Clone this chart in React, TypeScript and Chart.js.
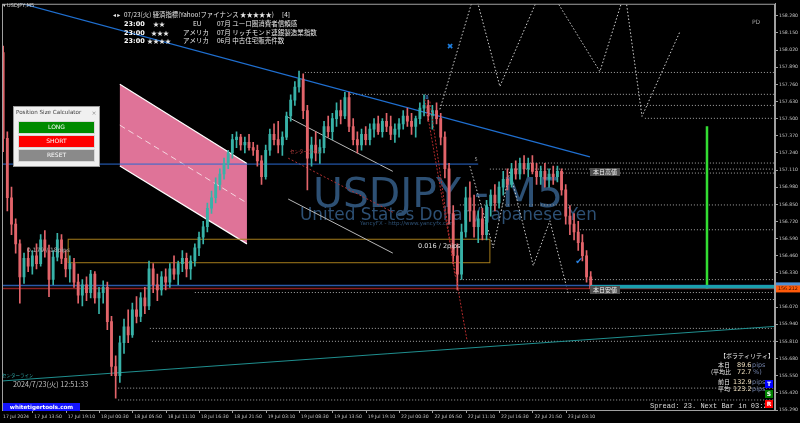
import React, { useEffect, useRef } from 'react';
import { Chart, registerables } from 'chart.js';
Chart.register(...registerables);

// ---------- data (40-minute aggregated candles, USDJPY) ----------
const OPEN = [
  158.12, 158.00, 157.35, 156.90, 156.70, 156.55, 156.30, 156.44, 156.38, 156.46,
  156.40, 156.58, 156.50, 156.28, 156.45, 156.58, 156.44, 156.36, 156.40, 156.26,
  156.16, 156.24, 156.18, 156.32, 156.14, 156.18, 156.22, 155.96, 155.62, 155.55,
  155.80, 155.92, 155.86, 156.05, 156.00, 156.14, 156.08, 156.36, 156.24, 156.20,
  156.30, 156.26, 156.36, 156.32, 156.40, 156.44, 156.36, 156.42, 156.52, 156.60,
  156.68, 156.82, 156.90, 157.00, 157.08, 157.16, 157.24, 157.34, 157.36, 157.30,
  157.32, 157.28, 157.26, 157.18, 157.06, 157.26, 157.38, 157.34, 157.30, 157.36,
  157.52, 157.64, 157.74, 157.80, 157.56, 157.20, 157.30, 157.24, 157.28, 157.44,
  157.40, 157.50, 157.56, 157.52, 157.66, 157.44, 157.34, 157.30, 157.38, 157.34,
  157.42, 157.46, 157.40, 157.48, 157.44, 157.38, 157.42, 157.46, 157.52, 157.48,
  157.44, 157.50, 157.58, 157.60, 157.52, 157.56, 157.50, 157.36, 157.12, 156.78,
  156.46, 156.32, 156.64, 156.90, 156.80, 156.68, 156.74, 156.62, 156.84, 156.92,
  156.86, 156.98, 157.04, 157.00, 157.12, 157.08, 157.16, 157.12, 157.16, 157.10,
  157.06, 157.10, 157.04, 157.08, 157.06, 157.10, 156.96, 156.76, 156.70, 156.64,
  156.56, 156.46, 156.30,
];
const HIGH = [
  158.22, 158.05, 157.40, 156.98, 156.74, 156.58, 156.48, 156.52, 156.50, 156.55,
  156.62, 156.65, 156.54, 156.50, 156.63, 156.62, 156.50, 156.46, 156.44, 156.32,
  156.28, 156.30, 156.35, 156.34, 156.22, 156.27, 156.26, 156.00, 155.70, 155.85,
  155.98, 156.05, 156.10, 156.15, 156.18, 156.22, 156.42, 156.40, 156.32, 156.34,
  156.36, 156.40, 156.46, 156.42, 156.50, 156.48, 156.46, 156.55, 156.64, 156.72,
  156.86, 156.95, 157.05, 157.12, 157.20, 157.26, 157.38, 157.40, 157.38, 157.36,
  157.38, 157.32, 157.30, 157.22, 157.30, 157.42, 157.46, 157.48, 157.40, 157.55,
  157.68, 157.78, 157.86, 157.84, 157.60, 157.36, 157.40, 157.34, 157.48, 157.52,
  157.54, 157.62, 157.64, 157.70, 157.70, 157.50, 157.40, 157.42, 157.44, 157.46,
  157.50, 157.52, 157.50, 157.54, 157.52, 157.46, 157.50, 157.56, 157.58, 157.54,
  157.52, 157.62, 157.68, 157.64, 157.60, 157.62, 157.54, 157.40, 157.16, 156.84,
  156.55, 156.70, 156.98, 157.02, 156.92, 156.80, 156.82, 156.88, 156.96, 157.00,
  157.02, 157.10, 157.12, 157.16, 157.18, 157.20, 157.22, 157.20, 157.22, 157.16,
  157.14, 157.16, 157.12, 157.14, 157.14, 157.12, 157.00, 156.84, 156.78, 156.72,
  156.62, 156.50, 156.34,
];
const LOW = [
  157.95, 157.25, 156.80, 156.62, 156.48, 156.10, 156.25, 156.34, 156.32, 156.36,
  156.38, 156.45, 156.15, 156.24, 156.42, 156.40, 156.30, 156.26, 156.22, 156.10,
  156.08, 156.12, 156.14, 156.10, 156.02, 156.10, 155.90, 155.55, 155.38, 155.50,
  155.72, 155.80, 155.84, 155.95, 155.96, 156.02, 156.05, 156.18, 156.12, 156.16,
  156.20, 156.22, 156.28, 156.24, 156.34, 156.30, 156.28, 156.38, 156.46, 156.55,
  156.64, 156.78, 156.86, 156.96, 157.04, 157.12, 157.20, 157.28, 157.26, 157.24,
  157.26, 157.22, 157.14, 157.00, 157.04, 157.22, 157.30, 157.24, 157.22, 157.34,
  157.48, 157.60, 157.70, 157.50, 156.96, 157.14, 157.18, 157.16, 157.24, 157.36,
  157.34, 157.44, 157.46, 157.50, 157.40, 157.30, 157.24, 157.26, 157.30, 157.30,
  157.36, 157.38, 157.36, 157.40, 157.34, 157.32, 157.36, 157.42, 157.44, 157.38,
  157.36, 157.46, 157.52, 157.48, 157.42, 157.46, 157.30, 157.05, 156.70, 156.40,
  156.20, 156.28, 156.60, 156.72, 156.60, 156.56, 156.58, 156.58, 156.76, 156.80,
  156.82, 156.92, 156.96, 156.98, 157.04, 157.04, 157.08, 157.06, 157.08, 157.00,
  157.00, 156.98, 156.98, 157.00, 157.02, 156.92, 156.70, 156.62, 156.58, 156.50,
  156.42, 156.26, 156.19,
];
const CLOSE = [
  158.00, 157.35, 156.90, 156.70, 156.55, 156.30, 156.44, 156.38, 156.46, 156.40,
  156.58, 156.50, 156.28, 156.45, 156.58, 156.44, 156.36, 156.40, 156.26, 156.16,
  156.24, 156.18, 156.32, 156.14, 156.18, 156.22, 155.96, 155.62, 155.55, 155.80,
  155.92, 155.86, 156.05, 156.00, 156.14, 156.08, 156.36, 156.24, 156.20, 156.30,
  156.26, 156.36, 156.32, 156.40, 156.44, 156.36, 156.42, 156.52, 156.60, 156.68,
  156.82, 156.90, 157.00, 157.08, 157.16, 157.24, 157.34, 157.36, 157.30, 157.32,
  157.28, 157.26, 157.18, 157.06, 157.26, 157.38, 157.34, 157.30, 157.36, 157.52,
  157.64, 157.74, 157.80, 157.56, 157.20, 157.30, 157.24, 157.28, 157.44, 157.40,
  157.50, 157.56, 157.52, 157.66, 157.44, 157.34, 157.30, 157.38, 157.34, 157.42,
  157.46, 157.40, 157.48, 157.44, 157.38, 157.42, 157.46, 157.52, 157.48, 157.44,
  157.50, 157.58, 157.60, 157.52, 157.56, 157.50, 157.36, 157.12, 156.78, 156.46,
  156.32, 156.64, 156.90, 156.80, 156.68, 156.74, 156.62, 156.84, 156.92, 156.86,
  156.98, 157.04, 157.00, 157.12, 157.08, 157.16, 157.12, 157.16, 157.10, 157.06,
  157.10, 157.04, 157.08, 157.06, 157.10, 156.96, 156.76, 156.70, 156.64, 156.56,
  156.46, 156.30, 156.212,
];

const TIME_LABELS = [
  '17 Jul 2024', '17 Jul 13:50', '17 Jul 19:10', '18 Jul 00:30', '18 Jul 05:50', '18 Jul 11:10',
  '18 Jul 16:30', '18 Jul 21:50', '19 Jul 03:10', '19 Jul 08:30', '19 Jul 13:50', '19 Jul 19:10',
  '22 Jul 00:30', '22 Jul 05:50', '22 Jul 11:10', '22 Jul 16:30', '22 Jul 21:50', '23 Jul 03:10',
];
const BARS_PER_LABEL = 8;

const PRICE_TICKS = [
  155.29, 155.42, 155.55, 155.68, 155.81, 155.94, 156.07, 156.2, 156.33, 156.46, 156.59, 156.72,
  156.85, 156.98, 157.11, 157.24, 157.37, 157.5, 157.63, 157.76, 157.89, 158.02, 158.15, 158.28,
];
const BID = 156.212;
const ASK = 156.235;

// drawing objects (bar index, price)
const CHANNEL_X = [29.0, 59.5];
const CHANNEL_UPPER = [157.76, 157.16];
const CHANNEL_MID = [157.45, 156.86];
const CHANNEL_LOWER = [157.14, 156.55];

const TREND_X = [3.4, 141.8];
const TREND_Y = [158.39, 157.21];

const BLUE_LEVEL = 157.155;
const BLUE_LEVEL_END = 115;

const BOX_X = [16.6, 117.8];
const BOX_Y = [156.585, 156.407];

const HLINE_PRICE = [157.85, 157.684, 157.6, 157.502, 157.163, 157.117, 157.087, 156.845, 156.657, 156.279, 156.181, 156.128, 155.909, 155.811, 155.456, 155.366];
const HLINE_FROM = [73.4, 84.2, 105.8, 155.0, 127.4, 117.8, 134.6, 110.6, 139.4, 110.6, 47.0, 138.2, 36.2, 36.7, 28.6, 28.6];

const GRAY_CH_X = [69.4, 94.5];
const GRAY_CH_UPPER = [157.51, 157.10];
const GRAY_CH_MID = [157.20, 156.79];
const GRAY_CH_LOWER = [156.89, 156.48];

const RED_DIAG_X = [[102.2, 112.3], [103.4, 109.4]];
const RED_DIAG_Y = [[157.646, 155.82], [157.63, 156.31]];

const CENTER_X = [0.24, 186.2];
const CENTER_Y = [155.509, 155.924];

const ZIG_UP_X = [105.8, 114.2, 120.2, 131.0, 144.2, 150.2, 154.3, 163.4];
const ZIG_UP_Y = [157.57, 158.46, 157.744, 158.537, 157.857, 158.461, 157.517, 158.159];
const ZIG_DN_X = [113.0, 118.6, 122.6, 128.2, 132.2, 136.6];
const ZIG_DN_Y = [157.14, 156.521, 157.102, 156.385, 156.725, 156.173];

const GREEN_X = 169.9;
const GREEN_Y = [157.442, 156.211];

const UP_COLOR = '#38b2a8';
const DOWN_COLOR = '#e2646a';
const CJK = '"Noto Sans CJK JP", "DejaVu Sans", sans-serif';
const SANS = '"DejaVu Sans", sans-serif';

export default function App() {
  const ref = useRef<HTMLCanvasElement>(null);
  useEffect(() => {
    document.body.style.margin = '0';
    document.body.style.background = '#000';
    const canvas = ref.current!;
    const up = CLOSE.map((c, i) => c >= OPEN[i]);
    const colors = up.map((u) => (u ? UP_COLOR : DOWN_COLOR));

    const txt = (ctx: CanvasRenderingContext2D, s: string, x: number, y: number, size: number, color: string,
      align: CanvasTextAlign = 'left', family = CJK, weight = 'normal', maxW?: number) => {
      ctx.font = `${weight} ${size}px ${family}`;
      ctx.fillStyle = color;
      ctx.textAlign = align;
      ctx.textBaseline = 'middle';
      if (maxW) ctx.fillText(s, x, y, maxW); else ctx.fillText(s, x, y);
    };

    const overlay = {
      id: 'overlay',
      beforeDraw(chart: any) {
        const ctx = chart.ctx;
        ctx.save();
        ctx.fillStyle = '#000';
        ctx.fillRect(0, 0, chart.width, chart.height);
        ctx.restore();
      },
      beforeDatasetsDraw(chart: any) {
        const { ctx, chartArea: a } = chart;
        const X = (v: number) => chart.scales.x.getPixelForValue(v);
        const Y = (v: number) => chart.scales.y.getPixelForValue(v);
        const line = (xs: number[], ys: number[], color: string, w = 1, dash: number[] = []) => {
          ctx.beginPath();
          ctx.strokeStyle = color; ctx.lineWidth = w; ctx.setLineDash(dash);
          xs.forEach((x, k) => (k ? ctx.lineTo(X(x), Y(ys[k])) : ctx.moveTo(X(x), Y(ys[k]))));
          ctx.stroke();
          ctx.setLineDash([]);
        };
        ctx.save();
        ctx.beginPath(); ctx.rect(a.left, a.top, a.right - a.left, a.bottom - a.top); ctx.clip();

        // watermark
        const wmColor = '#2d5074';
        ctx.font = `40px ${SANS}`;
        let w = ctx.measureText('USDJPY - M5').width;
        const big = 40 * 250 / w;
        ctx.font = `${big}px ${SANS}`; ctx.fillStyle = wmColor; ctx.textAlign = 'left'; ctx.textBaseline = 'alphabetic';
        ctx.fillText('USDJPY - M5', 313, 207);
        ctx.font = `18px ${SANS}`;
        w = ctx.measureText('United States Dollar / Japanese Yen').width;
        ctx.font = `${18 * 297 / w}px ${SANS}`;
        ctx.fillText('United States Dollar / Japanese Yen', 300, 220);
        txt(ctx, 'YancyFX - http://www.yancyfx.com', 360, 224, 5.5, wmColor, 'left', SANS);

        // pink channel
        ctx.beginPath();
        ctx.moveTo(X(CHANNEL_X[0]), Y(CHANNEL_UPPER[0]));
        ctx.lineTo(X(CHANNEL_X[1]), Y(CHANNEL_UPPER[1]));
        ctx.lineTo(X(CHANNEL_X[1]), Y(CHANNEL_LOWER[1]));
        ctx.lineTo(X(CHANNEL_X[0]), Y(CHANNEL_LOWER[0]));
        ctx.closePath();
        ctx.fillStyle = '#df7398'; ctx.fill();
        line(CHANNEL_X, CHANNEL_UPPER, '#ffffff', 1.2);
        line(CHANNEL_X, CHANNEL_LOWER, '#ffffff', 1.2);
        line(CHANNEL_X, CHANNEL_MID, '#f6d6e0', 1, [6, 4]);

        // horizontal dotted levels
        HLINE_PRICE.forEach((p, k) => line([HLINE_FROM[k], 190], [p, p], '#a8a8a8', 1, [1, 2]));

        // gold box
        ctx.strokeStyle = '#a57c1b'; ctx.lineWidth = 1;
        ctx.strokeRect(X(BOX_X[0]), Y(BOX_Y[0]), X(BOX_X[1]) - X(BOX_X[0]), Y(BOX_Y[1]) - Y(BOX_Y[0]));

        // gray channel
        line(GRAY_CH_X, GRAY_CH_UPPER, '#b8b8b8', 1);
        line(GRAY_CH_X, GRAY_CH_LOWER, '#b8b8b8', 1);
        line(GRAY_CH_X, GRAY_CH_MID, '#b03030', 1, [2, 2]);

        // center line
        line(CENTER_X, CENTER_Y, '#1f8f8f', 1);

        // zigzag projections
        line(ZIG_UP_X, ZIG_UP_Y, '#d0d0d0', 1, [1.5, 2]);
        line(ZIG_DN_X, ZIG_DN_Y, '#d0d0d0', 1, [1.5, 2]);

        // blue trendline and level
        line(TREND_X, TREND_Y, '#1f6fd0', 1.2);
        line([0, BLUE_LEVEL_END], [BLUE_LEVEL, BLUE_LEVEL], '#2a6ad0', 1);

        // ask / bid lines
        line([0, 190], [ASK, ASK], '#2a5aa8', 1.5);
        line([0, 190], [BID, BID], '#8a2020', 1.5);
        ctx.restore();
      },
      afterDatasetsDraw(chart: any) {
        const { ctx, chartArea: a } = chart;
        const X = (v: number) => chart.scales.x.getPixelForValue(v);
        const Y = (v: number) => chart.scales.y.getPixelForValue(v);
        const line = (xs: number[], ys: number[], color: string, w = 1, dash: number[] = []) => {
          ctx.beginPath();
          ctx.strokeStyle = color; ctx.lineWidth = w; ctx.setLineDash(dash);
          xs.forEach((x, k) => (k ? ctx.lineTo(X(x), Y(ys[k])) : ctx.moveTo(X(x), Y(ys[k]))));
          ctx.stroke();
          ctx.setLineDash([]);
        };
        ctx.save();
        ctx.beginPath(); ctx.rect(a.left, a.top, a.right - a.left, a.bottom - a.top); ctx.clip();
        RED_DIAG_X.forEach((xs, k) => line(xs, RED_DIAG_Y[k], '#b02a2a', 1, [2, 1.5]));
        line([GREEN_X, GREEN_X], GREEN_Y, '#33dd33', 2.5);
        line([CLOSE.length - 1, 190], [BID + 0.012, BID + 0.012], '#1a9fae', 3.5);
        ctx.restore();

        // frame
        ctx.save();
        ctx.strokeStyle = '#a0a0a0'; ctx.lineWidth = 1;
        ctx.strokeRect(a.left + 0.5, a.top + 0.5, a.right - a.left - 1, a.bottom - a.top);
        ctx.restore();

        // time axis
        TIME_LABELS.forEach((lab, k) => {
          const px = X(k * BARS_PER_LABEL);
          if (px > a.left) {
            ctx.fillStyle = '#a0a0a0';
            ctx.fillRect(Math.round(px), a.bottom, 1, 3);
          }
          txt(ctx, lab, Math.max(px + 2, 3), 416.5, 4.6, '#c8c8c8', 'left', SANS);
        });

        // texts in chart
        txt(ctx, '▾ USDJPY,M5', 3, 6, 5, '#dddddd', 'left', SANS);
        txt(ctx, 'PD', 752, 22, 6, '#a0a0a0', 'left', SANS);
        const ev = '#e8e8e8';
        txt(ctx, '◂ ▸', 113, 15, 6, ev);
        txt(ctx, '07/23(火) 経済指標(Yahoo!ファイナンス ★★★★★)', 124, 15, 6.5, ev, 'left', CJK, 'normal', 150);
        txt(ctx, '[4]', 282, 15, 6.5, ev);
        const rows: [number, string, number, string, number, string][] = [
          [24, '★★', 153, 'EU', 193, '07月 ユーロ圏消費者信頼感'],
          [33, '★★★', 151, 'アメリカ', 183, '07月 リッチモンド連銀製造業指数'],
          [41, '★★★★', 147, 'アメリカ', 183, '06月 中古住宅販売件数'],
        ];
        rows.forEach(([y, st, sx, c, cx, d]) => {
          txt(ctx, '23:00', 124, y, 6.5, '#ffffff', 'left', SANS, 'bold');
          txt(ctx, st, sx, y, 6, ev);
          txt(ctx, c, cx, y, 6.5, ev);
          txt(ctx, d, 217, y, 6.5, ev);
        });

        txt(ctx, '✖', 450, 47, 8, '#1e7fe0', 'center', SANS);
        txt(ctx, '✔', 579, 262, 9, '#2a86e8', 'center', SANS);
        txt(ctx, 'B', 427, 98, 5, '#4a90e0', 'center', SANS);
        txt(ctx, '5', 476, 160, 5, '#a0a0a0', 'center', SANS);
        txt(ctx, 'センターライン', 290, 151, 4.5, '#c04040');
        txt(ctx, '0.179 / 18pips', 27, 250, 6, '#b0b0b0', 'left', SANS);
        txt(ctx, '0.016 / 2pips', 418, 246, 6.5, '#e0e0e0', 'left', SANS);

        // today's high / low labels
        [[168, '本日高値'], [286, '本日安値']].forEach(([y, s]) => {
          ctx.fillStyle = '#4e4e4e';
          ctx.fillRect(590, y as number, 30, 8);
          txt(ctx, s as string, 605, (y as number) + 4, 6, '#f0f0f0', 'center');
        });

        // position size calculator
        ctx.fillStyle = '#f0f0f0'; ctx.fillRect(13, 106, 87, 61);
        ctx.strokeStyle = '#9a9a9a'; ctx.lineWidth = 1; ctx.strokeRect(13.5, 106.5, 86, 60);
        txt(ctx, 'Position Size Calculator', 16, 113, 5.6, '#404040', 'left', SANS);
        txt(ctx, '×', 94, 113, 6, '#909090', 'center', SANS);
        [['LONG', '#008a00', 121], ['SHORT', '#ff0000', 135], ['RESET', '#8a8a8a', 149]].forEach(([s, c, y]) => {
          ctx.fillStyle = c as string; ctx.fillRect(18, y as number, 77, 13);
          ctx.strokeStyle = '#d8d8d8'; ctx.strokeRect(18.5, (y as number) + 0.5, 76, 12);
          txt(ctx, s as string, 56.5, (y as number) + 6.8, 6, '#ffffff', 'center', SANS);
        });

        // bottom-left
        txt(ctx, 'センターライン', 2, 375, 4.5, '#30a8a8');
        txt(ctx, '2024/7/23(火) 12:51:33', 13, 384, 7.2, '#c0c0c0');
        ctx.fillStyle = '#1414ff'; ctx.fillRect(3, 403, 77, 8);
        txt(ctx, 'whitetigertools.com', 41.5, 407.2, 5.6, '#ffffff', 'center', SANS, 'bold');

        // volatility box
        txt(ctx, '【ボラティリティ】', 720, 356, 6, '#e8e8e8');
        txt(ctx, '本日', 718, 365, 6, '#e8e8e8');
        txt(ctx, '89.6', 737, 365, 6.5, '#f0e0c0', 'left', SANS);
        txt(ctx, 'pips', 752, 365, 6.5, '#7080a8', 'left', SANS);
        txt(ctx, '(平均比', 711, 372, 6, '#e8e8e8');
        txt(ctx, '72.7', 737, 372, 6.5, '#f0e0c0', 'left', SANS);
        txt(ctx, '%)', 753, 372, 6.5, '#7080a8', 'left', SANS);
        txt(ctx, '前日', 718, 382, 6, '#e8e8e8');
        txt(ctx, '132.9', 733, 382, 6.5, '#f0e0c0', 'left', SANS);
        txt(ctx, 'pips', 752, 382, 6.5, '#7080a8', 'left', SANS);
        txt(ctx, '平均', 718, 389, 6, '#e8e8e8');
        txt(ctx, '123.2', 733, 389, 6.5, '#f0e0c0', 'left', SANS);
        txt(ctx, 'pips', 752, 389, 6.5, '#7080a8', 'left', SANS);
        txt(ctx, 'Spread: 23. Next Bar in 03:2', 650, 406.5, 7, '#d8d8d8', 'left', '"Liberation Mono", monospace');
        [['T', '#0000ff', 380], ['S', '#008000', 390], ['R', '#ff0000', 400]].forEach(([s, c, y]) => {
          ctx.fillStyle = c as string; ctx.fillRect(765, y as number, 8, 8);
          txt(ctx, s as string, 769, (y as number) + 4.3, 6, '#ffffff', 'center', SANS, 'bold');
        });

        // price labels on axis
        ctx.fillStyle = '#4a8fd8'; ctx.fillRect(776, Y(ASK) - 3, 24, 4);
        ctx.fillStyle = '#ff5a0a'; ctx.fillRect(776, Y(BID) - 3, 24, 7);
        txt(ctx, BID.toFixed(3), 778, Y(BID) + 0.5, 4.8, '#3a1000', 'left', SANS);
      },
    };

    const chart = new Chart(canvas, {
      type: 'bar',
      data: {
        datasets: [
          {
            label: 'wick',
            data: CLOSE.map((_, i) => ({ x: i, y: [LOW[i], HIGH[i]] })) as any,
            backgroundColor: colors,
            barThickness: 1,
            grouped: false,
            order: 2,
          },
          {
            label: 'body',
            data: CLOSE.map((c, i) => ({ x: i, y: [OPEN[i], c] })) as any,
            backgroundColor: colors,
            barThickness: 2.2,
            minBarLength: 1,
            grouped: false,
            order: 1,
          },
        ],
      },
      options: {
        animation: false,
        responsive: false,
        maintainAspectRatio: false,
        layout: { padding: { left: 2, top: 2, right: 0, bottom: 13 } },
        plugins: { legend: { display: false }, tooltip: { enabled: false } },
        scales: {
          x: { type: 'linear', min: 0.72, max: 186.22, display: false, offset: false },
          y: {
            position: 'right',
            min: 155.29,
            max: 158.371,
            afterFit: (s: any) => { s.width = 25; },
            afterBuildTicks: (s: any) => { s.ticks = PRICE_TICKS.map((v) => ({ value: v })); },
            ticks: {
              color: '#c8c8c8',
              font: { size: 4.6, family: 'DejaVu Sans' },
              padding: 1,
              callback: (v: any) => Number(v).toFixed(3),
            },
            grid: { drawOnChartArea: false, tickLength: 3, color: '#a0a0a0' },
            border: { color: '#a0a0a0' },
          },
        },
      } as any,
      plugins: [overlay],
    });
    return () => chart.destroy();
  }, []);
  return <canvas ref={ref} width={800} height={423} style={{ display: 'block', width: 800, height: 423 }} />;
}
